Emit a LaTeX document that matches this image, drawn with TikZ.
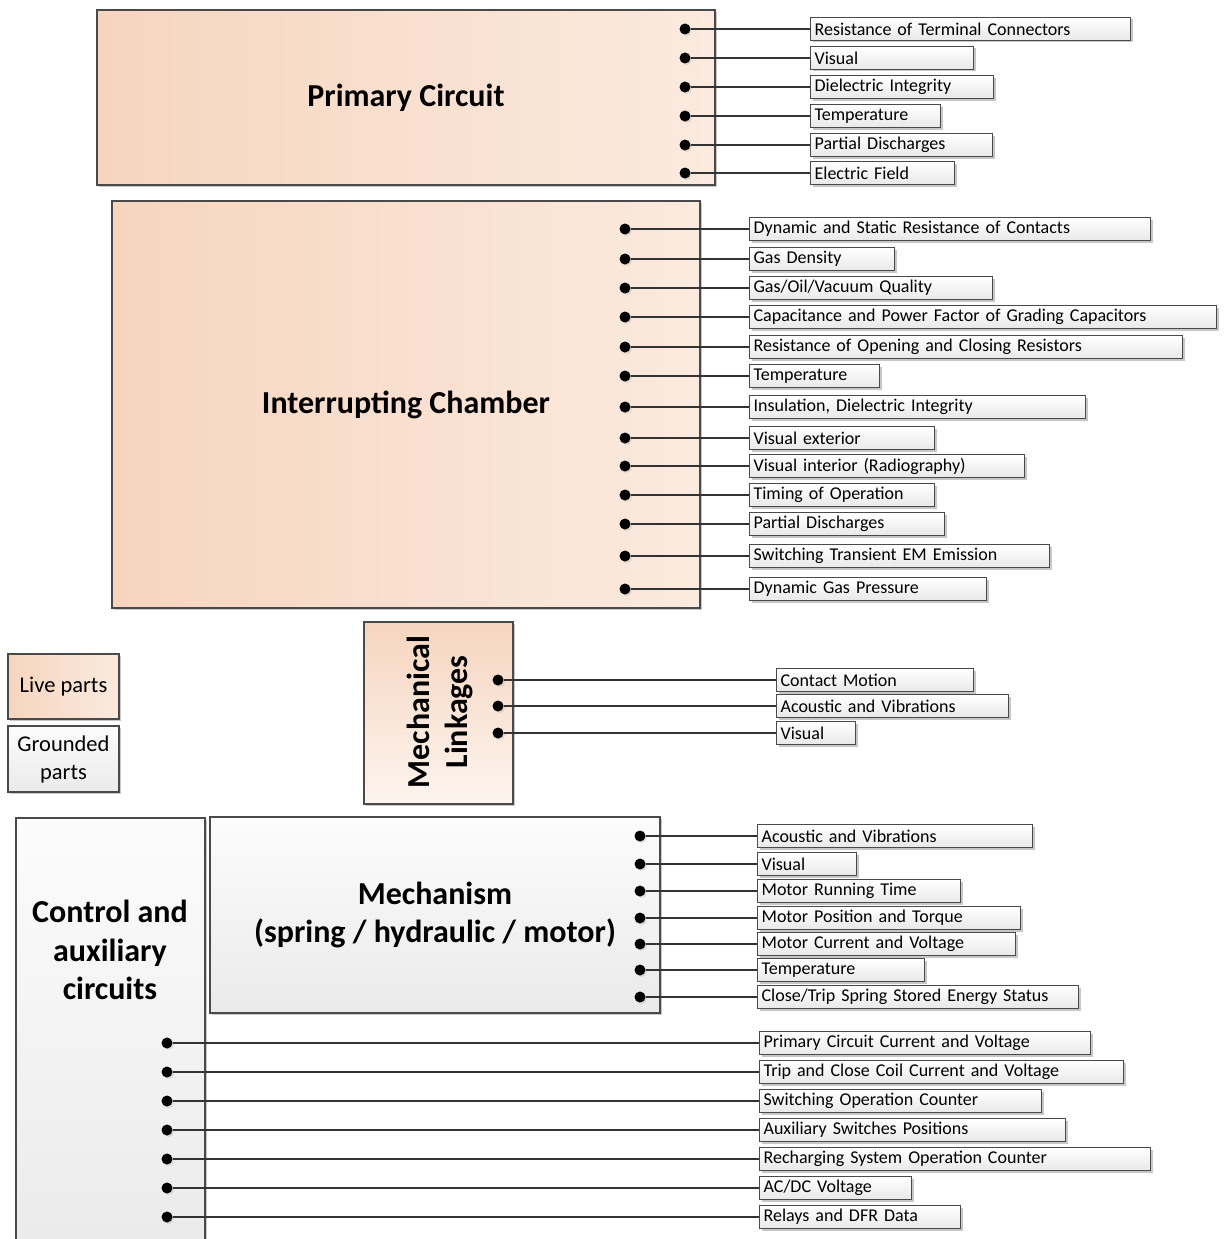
\documentclass[tikz,border=0pt]{standalone}
\usepackage{fontspec}
\setmainfont{Carlito}
\usetikzlibrary{shadows}

\definecolor{edge}{HTML}{4A4A4A}
\definecolor{peachA}{HTML}{F6D5BF}
\definecolor{peachB}{HTML}{FBEADF}
\definecolor{greyA}{HTML}{FCFCFC}
\definecolor{greyB}{HTML}{EAEAEA}

\newcommand\lblfont{\fontsize{18}{21}\selectfont}
\newcommand\ttlfont{\fontsize{32}{38.5}\selectfont\bfseries}
\newcommand\legfont{\fontsize{22.5}{28}\selectfont}

\tikzset{
  softshadow/.style={drop shadow={shadow xshift=2pt, shadow yshift=-2pt, opacity=0.22, fill=black}},
  livebox/.style={draw=edge, line width=1.6pt, left color=peachA, right color=peachB, softshadow, inner sep=0pt},
  groundbox/.style={draw=edge, line width=1.6pt, top color=greyA, bottom color=greyB, softshadow, inner sep=0pt},
  lab/.style={draw=edge, line width=1.2pt, top color=white, bottom color=black!9, anchor=west,
    minimum height=23pt, inner xsep=4pt, inner ysep=0pt, font=\lblfont, align=left, softshadow},
  dot/.style={circle, fill=black, inner sep=0pt, minimum size=11pt,
    drop shadow={shadow xshift=1.5pt, shadow yshift=-1.5pt, opacity=0.2}},
  conn/.style={draw=black!80, line width=1.3pt},
}

% one measured quantity: dot inside the part, connector, and label box
\newcommand\probe[6]{%
  \pgfmathsetmacro\lw{#5-#4-8}%
  \node[dot] (#1d) at (#2,#3) {};
  \node[lab, text width=\lw pt] (#1) at (#4,#3) {#6};
  \draw[conn] (#1d.east) -- (#1.west);
}

\begin{document}
\begin{tikzpicture}[x=1pt,y=-1pt]
\useasboundingbox (0,0) rectangle (1223,1239);

% ---------- Primary circuit ----------
\node[livebox, minimum width=618pt, minimum height=175pt, font=\ttlfont] (pc) at (406,97.5) {Primary Circuit};
\foreach \y/\r/\t [count=\i] in {
  29/1130/{Resistance of Terminal Connectors},
  58/973/{Visual},
  87/993/{Dielectric Integrity},
  116/940/{Temperature},
  145/992/{Partial Discharges},
  173/954/{Electric Field}}{
  \probe{pc\i}{685}{\y}{810}{\r}{\t}
}

% ---------- Interrupting chamber ----------
\node[livebox, minimum width=588pt, minimum height=407pt, font=\ttlfont] (ic) at (406,404.5) {Interrupting Chamber};
\foreach \y/\r/\t [count=\i] in {
  229/1150/{Dynamic and Static Resistance of Contacts},
  259/894/{Gas Density},
  288/992/{Gas/Oil/Vacuum Quality},
  317/1216/{Capacitance and Power Factor of Grading Capacitors},
  347/1182/{Resistance of Opening and Closing Resistors},
  376/879/{Temperature},
  407/1085/{Insulation, Dielectric Integrity},
  438/934/{Visual exterior},
  466/1024/{Visual interior (Radiography)},
  495/934/{Timing of Operation},
  524/944/{Partial Discharges},
  556/1049/{Switching Transient EM Emission},
  589/986/{Dynamic Gas Pressure}}{
  \probe{ic\i}{625}{\y}{749}{\r}{\t}
}

% ---------- Legend ----------
\node[livebox, minimum width=111pt, minimum height=65pt, font=\legfont] (live) at (63.5,686.5) {Live parts};
\node[groundbox, minimum width=111pt, minimum height=66pt, font=\legfont, align=center] (gnd) at (63.5,759) {Grounded\\parts};

% ---------- Mechanical linkages ----------
\node[draw=edge, line width=1.6pt, top color=peachA, bottom color=peachB!50!white, softshadow,
      minimum width=149pt, minimum height=182pt, inner sep=0pt] (ml) at (438.5,713) {};
\node[rotate=90, font=\ttlfont, align=center] (mlt) at (440,712) {Mechanical\\Linkages};
\foreach \y/\r/\t [count=\i] in {
  680/973/{Contact Motion},
  706/1008/{Acoustic and Vibrations},
  733/855/{Visual}}{
  \probe{ml\i}{498}{\y}{776}{\r}{\t}
}

% ---------- Control and auxiliary circuits ----------
\node[groundbox, minimum width=189pt, minimum height=440pt, anchor=north west] (cc) at (15,817) {};
\node[font=\ttlfont, align=center] (cct) at (110,950) {Control and\\auxiliary\\circuits};

% ---------- Mechanism ----------
\node[groundbox, minimum width=450pt, minimum height=196pt, font=\ttlfont, align=center] (me) at (435,915) {Mechanism\\(spring / hydraulic / motor)};
\foreach \y/\r/\t [count=\i] in {
  836/1032/{Acoustic and Vibrations},
  864/856/{Visual},
  891/960/{Motor Running Time},
  918/1020/{Motor Position and Torque},
  944/1015/{Motor Current and Voltage},
  970/924/{Temperature},
  997/1078/{Close/Trip Spring Stored Energy Status}}{
  \probe{me\i}{640}{\y}{757}{\r}{\t}
}

% ---------- Control quantities ----------
\foreach \y/\r/\t [count=\i] in {
  1043/1090/{Primary Circuit Current and Voltage},
  1072/1123/{Trip and Close Coil Current and Voltage},
  1101/1041/{Switching Operation Counter},
  1130/1065/{Auxiliary Switches Positions},
  1159/1150/{Recharging System Operation Counter},
  1188/911/{AC/DC Voltage},
  1217/960/{Relays and DFR Data}}{
  \probe{cc\i}{167}{\y}{759}{\r}{\t}
}
\end{tikzpicture}
\end{document}
